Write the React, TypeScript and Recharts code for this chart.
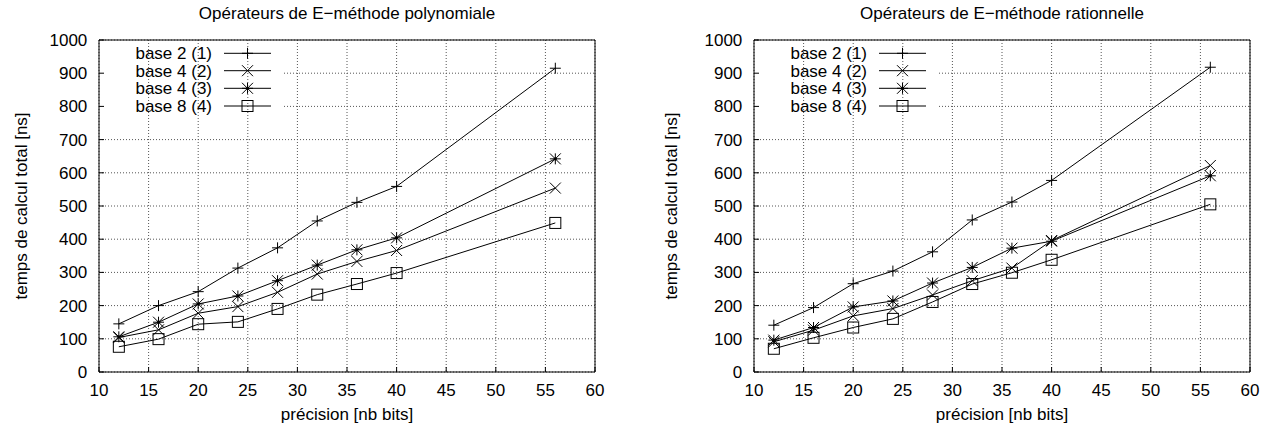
import React from 'react';
import { LineChart, Line, XAxis, YAxis, CartesianGrid, Legend } from 'recharts';

// ---------- data ----------
const precision = [12, 16, 20, 24, 28, 32, 36, 40, 56];
const seriesNames = ['base 2 (1)', 'base 4 (2)', 'base 4 (3)', 'base 8 (4)'];
const markerKinds = ['plus', 'cross', 'star', 'box'];
const xTicks = [10, 15, 20, 25, 30, 35, 40, 45, 50, 55, 60];
const yTicks = [0, 100, 200, 300, 400, 500, 600, 700, 800, 900, 1000];

const polyTitle = 'Opérateurs de E−méthode polynomiale';
const polyBase2_1 = [145, 200, 242, 313, 374, 455, 511, 559, 915];
const polyBase4_2 = [104, 127, 177, 197, 240, 295, 333, 366, 554];
const polyBase4_3 = [106, 150, 205, 229, 275, 322, 368, 404, 642];
const polyBase8_4 = [76, 99, 144, 151, 190, 233, 265, 298, 449];

const ratTitle = 'Opérateurs de E−méthode rationnelle';
const ratBase2_1 = [141, 194, 266, 304, 362, 458, 512, 577, 918];
const ratBase4_2 = [91, 126, 169, 191, 232, 275, 313, 396, 622];
const ratBase4_3 = [96, 134, 196, 214, 268, 315, 373, 394, 591];
const ratBase8_4 = [70, 103, 134, 160, 211, 265, 299, 338, 505];

const xLabel = 'précision [nb bits]';
const yLabel = 'temps de calcul total [ns]';

// ---------- styles ----------
const FONT = '"Liberation Sans", Arial, Helvetica, sans-serif';
const FS = 17;
const CHART_W = 626;
const CHART_H = 430;
const keys = ['s1', 's2', 's3', 's4'];

const Marker = ({ kind, cx, cy }: { kind: string; cx: number; cy: number }) => {
  const s = 5.5;
  if (cx == null || cy == null || isNaN(cx) || isNaN(cy)) return null;
  const plus = (
    <>
      <line x1={cx - s} y1={cy} x2={cx + s} y2={cy} stroke="#000" strokeWidth={1} />
      <line x1={cx} y1={cy - s} x2={cx} y2={cy + s} stroke="#000" strokeWidth={1} />
    </>
  );
  const cross = (
    <>
      <line x1={cx - s} y1={cy - s} x2={cx + s} y2={cy + s} stroke="#000" strokeWidth={1} />
      <line x1={cx - s} y1={cy + s} x2={cx + s} y2={cy - s} stroke="#000" strokeWidth={1} />
    </>
  );
  if (kind === 'plus') return <g>{plus}</g>;
  if (kind === 'cross') return <g>{cross}</g>;
  if (kind === 'star')
    return (
      <g>
        {plus}
        {cross}
        <circle cx={cx} cy={cy} r={1.6} fill="#000" />
      </g>
    );
  return <rect x={cx - s} y={cy - s} width={2 * s} height={2 * s} fill="none" stroke="#000" strokeWidth={1} />;
};

const legendRowsY = [53.3, 70.7, 88.3, 106];

const LegendBox = () => (
  <svg width={CHART_W} height={130} style={{ display: 'block' }}>
    {seriesNames.map((name, i) => (
      <g key={name + i}>
        <text
          x={212}
          y={legendRowsY[i] + 6}
          textAnchor="end"
          fontFamily={FONT}
          fontSize={FS}
          fill="#000"
        >
          {name}
        </text>
        <line x1={224} y1={legendRowsY[i]} x2={271} y2={legendRowsY[i]} stroke="#000" strokeWidth={1} />
        <Marker kind={markerKinds[i]} cx={247.5} cy={legendRowsY[i]} />
      </g>
    ))}
  </svg>
);

const hGrid = (p: any) => {
  const inLegend = p.y1 > 45 && p.y1 < 116;
  return (
    <line
      key={`h${p.y1}`}
      x1={inLegend ? 284 : p.x1}
      x2={p.x2}
      y1={p.y1}
      y2={p.y2}
      stroke="#555"
      strokeWidth={1}
      strokeDasharray="1 2"
    />
  );
};

type PanelProps = { title: string; series: number[][]; left: number; yLabelOffset: number };

const Panel = ({ title, series, left, yLabelOffset }: PanelProps) => {
  const data = precision.map((x, i) => ({
    x,
    s1: series[0][i],
    s2: series[1][i],
    s3: series[2][i],
    s4: series[3][i],
  }));
  const tickStyle = { fill: '#000', fontSize: FS, fontFamily: FONT };
  return (
    <div style={{ position: 'absolute', left, top: 0, width: CHART_W, height: CHART_H }}>
      <LineChart width={CHART_W} height={CHART_H} data={data} margin={{ top: 0, right: 0, bottom: 0, left: 0 }}>
        <CartesianGrid stroke="#555" strokeDasharray="1 2" horizontal={hGrid} />
        <XAxis
          dataKey="x"
          type="number"
          domain={[10, 60]}
          ticks={xTicks}
          interval={0}
          height={58}
          tickSize={-5}
          tickMargin={16.6}
          tick={tickStyle}
          stroke="#000"
          allowDataOverflow
          label={{ value: xLabel, position: 'insideBottom', offset: 10, style: { fill: '#000', fontSize: FS, fontFamily: FONT } }}
        />
        <XAxis
          xAxisId="top"
          orientation="top"
          dataKey="x"
          type="number"
          domain={[10, 60]}
          ticks={xTicks}
          interval={0}
          height={40}
          tickSize={-5}
          tick={false}
          stroke="#000"
          label={{ value: title, position: 'insideTop', offset: 7.2, style: { fill: '#000', fontSize: FS, fontFamily: FONT } }}
        />
        <YAxis
          type="number"
          domain={[0, 1000]}
          ticks={yTicks}
          interval={0}
          width={99}
          tickSize={-5}
          tickMargin={16.7}
          tick={tickStyle}
          stroke="#000"
          label={{
            value: yLabel,
            angle: -90,
            position: 'insideLeft',
            offset: yLabelOffset,
            style: { textAnchor: 'middle', fill: '#000', fontSize: FS, fontFamily: FONT },
          }}
        />
        <YAxis
          yAxisId="right"
          orientation="right"
          type="number"
          domain={[0, 1000]}
          ticks={yTicks}
          interval={0}
          width={31}
          tickSize={-5}
          tick={false}
          stroke="#000"
        />
        <Legend
          layout="vertical"
          align="center"
          verticalAlign="middle"
          content={() => <LegendBox />}
          wrapperStyle={{ position: 'absolute', left: 0, top: 0, width: CHART_W, height: 130 }}
        />
        {keys.map((k, i) => (
          <Line
            key={k}
            dataKey={k}
            name={seriesNames[i]}
            type="linear"
            stroke="#000"
            strokeWidth={1}
            isAnimationActive={false}
            dot={(p: any) => <Marker key={`${k}-${p.index}`} kind={markerKinds[i]} cx={p.cx} cy={p.cy} />}
            activeDot={false}
          />
        ))}
      </LineChart>
    </div>
  );
};

export default function App() {
  return (
    <div
      style={{
        position: 'absolute',
        left: 0,
        top: 0,
        width: 1281,
        height: 430,
        overflow: 'hidden',
        background: '#fff',
      }}
    >
      <Panel title={polyTitle} series={[polyBase2_1, polyBase4_2, polyBase4_3, polyBase8_4]} left={0} yLabelOffset={21.3} />
      <Panel title={ratTitle} series={[ratBase2_1, ratBase4_2, ratBase4_3, ratBase8_4]} left={655} yLabelOffset={15.7} />
    </div>
  );
}
